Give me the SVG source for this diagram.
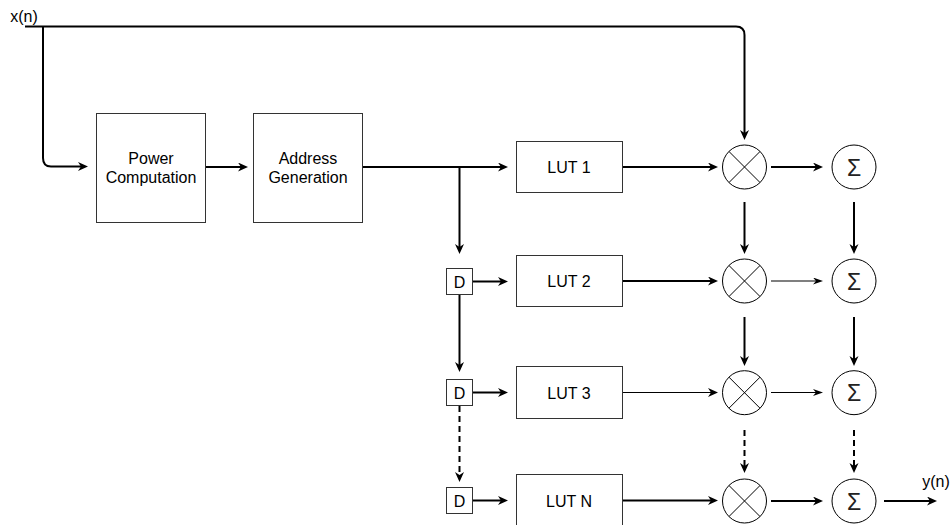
<svg xmlns="http://www.w3.org/2000/svg" width="952" height="525" viewBox="0 0 952 525">
<style>
  .box { fill: #fff; stroke: #333; stroke-width: 1; }
  .circ { fill: #fff; stroke: #000; stroke-width: 1; }
  .t { font-family: "Liberation Sans", Arial, Helvetica, sans-serif; font-size: 16px; fill: #000; text-anchor: middle; }
  .sig { font-family: "Liberation Sans", Arial, sans-serif; font-size: 23px; fill: #222; text-anchor: middle; }
  .w { fill: none; stroke: #000; stroke-width: 2; }
  .n { fill: none; stroke: #000; stroke-width: 1.2; }
  .d { stroke-dasharray: 6 4; }
</style>
<defs>
  <marker id="ah" markerUnits="userSpaceOnUse" markerWidth="12" markerHeight="10" refX="3" refY="4.5" orient="auto">
    <path d="M0,0 L10,4.5 L0,9 L3,4.5 z" fill="#000"/>
  </marker>
  <marker id="ahs" markerUnits="userSpaceOnUse" markerWidth="12" markerHeight="10" refX="3" refY="3.5" orient="auto">
    <path d="M0,0 L10,3.5 L0,7 L3,3.5 z" fill="#000"/>
  </marker>
</defs>

<g id="connectors">
  <path class="w" d="M25,26.5 H736 Q744.5,26.5 744.5,35 V133" marker-end="url(#ah)"/>
  <path class="w" d="M43,26.5 V158 Q43,166.5 51,166.5 H81" marker-end="url(#ah)"/>
  <path class="w" d="M205,167 H241" marker-end="url(#ah)"/>
  <path class="w" d="M363,167 H501" marker-end="url(#ah)"/>
  <path class="w" d="M459.5,167 V247" marker-end="url(#ah)"/>
  <path class="w" d="M473,281.5 H501" marker-end="url(#ah)"/>
  <path class="w" d="M459.5,295 V365" marker-end="url(#ah)"/>
  <path class="w" d="M473,392.5 H501" marker-end="url(#ah)"/>
  <path class="w d" d="M459.5,406 V475" marker-end="url(#ah)"/>
  <path class="w" d="M473,500.5 H501" marker-end="url(#ah)"/>

  <path class="w" d="M622,167 H711" marker-end="url(#ah)"/>
  <path class="w" d="M622,281 H711" marker-end="url(#ah)"/>
  <path class="n" d="M622,392.5 H711" marker-end="url(#ah)"/>
  <path class="w" d="M622,500.5 H711" marker-end="url(#ah)"/>

  <path class="w" d="M771,167 H816" marker-end="url(#ah)"/>
  <path class="n" d="M771,281 H816" marker-end="url(#ahs)"/>
  <path class="n" d="M771,392.5 H816" marker-end="url(#ahs)"/>
  <path class="w" d="M771,501 H816" marker-end="url(#ah)"/>

  <path class="w" d="M744.5,202 V247" marker-end="url(#ah)"/>
  <path class="w" d="M854,202 V247" marker-end="url(#ah)"/>
  <path class="w" d="M744.5,317 V359" marker-end="url(#ah)"/>
  <path class="w" d="M854,317 V359" marker-end="url(#ah)"/>
  <path class="w d" d="M744.5,430 V466" marker-end="url(#ah)"/>
  <path class="w d" d="M854,430 V466" marker-end="url(#ah)"/>

  <path class="w" d="M884,501 H930" marker-end="url(#ah)"/>
</g>

<text class="t" x="24" y="22">x(n)</text>
<text class="t" x="936" y="487">y(n)</text>

<g id="power">
  <rect class="box" x="96.5" y="113.5" width="109" height="109"/>
  <text class="t" x="151" y="164">Power</text>
  <text class="t" x="151" y="183">Computation</text>
</g>
<g id="address">
  <rect class="box" x="253.5" y="113.5" width="109" height="109"/>
  <text class="t" x="308" y="164">Address</text>
  <text class="t" x="308" y="183">Generation</text>
</g>

<g id="lut1"><rect class="box" x="516.5" y="141.5" width="106" height="51"/><text class="t" x="569" y="173">LUT 1</text></g>
<g id="lut2"><rect class="box" x="516.5" y="255.5" width="106" height="51"/><text class="t" x="569" y="287">LUT 2</text></g>
<g id="lut3"><rect class="box" x="516.5" y="366.5" width="106" height="52"/><text class="t" x="569" y="398.5">LUT 3</text></g>
<g id="lutn"><rect class="box" x="516.5" y="474.5" width="106" height="52"/><text class="t" x="569" y="506.5">LUT N</text></g>

<g id="d1"><rect class="box" x="446.5" y="268.5" width="26" height="26"/><text class="t" x="459.5" y="287.5">D</text></g>
<g id="d2"><rect class="box" x="446.5" y="379.5" width="26" height="26"/><text class="t" x="459.5" y="398.5">D</text></g>
<g id="d3"><rect class="box" x="446.5" y="487.5" width="26" height="26"/><text class="t" x="459.5" y="506.5">D</text></g>

<g id="mult1"><circle class="circ" cx="744.5" cy="167" r="22"/><path class="n" style="stroke-width:1" d="M729,151.5 L760,182.5 M760,151.5 L729,182.5"/></g>
<g id="mult2"><circle class="circ" cx="744.5" cy="281" r="22"/><path class="n" style="stroke-width:1" d="M729,265.5 L760,296.5 M760,265.5 L729,296.5"/></g>
<g id="mult3"><circle class="circ" cx="744.5" cy="392.7" r="22"/><path class="n" style="stroke-width:1" d="M729,377.2 L760,408.2 M760,377.2 L729,408.2"/></g>
<g id="multn"><circle class="circ" cx="744.5" cy="501" r="22"/><path class="n" style="stroke-width:1" d="M729,485.5 L760,516.5 M760,485.5 L729,516.5"/></g>

<g id="sum1"><circle class="circ" cx="854" cy="167" r="22"/><text class="sig" x="854" y="175.5">Σ</text></g>
<g id="sum2"><circle class="circ" cx="854" cy="281" r="22"/><text class="sig" x="854" y="289.5">Σ</text></g>
<g id="sum3"><circle class="circ" cx="854" cy="392.7" r="22"/><text class="sig" x="854" y="401.2">Σ</text></g>
<g id="sumn"><circle class="circ" cx="854" cy="501" r="22"/><text class="sig" x="854" y="509.5">Σ</text></g>
</svg>
